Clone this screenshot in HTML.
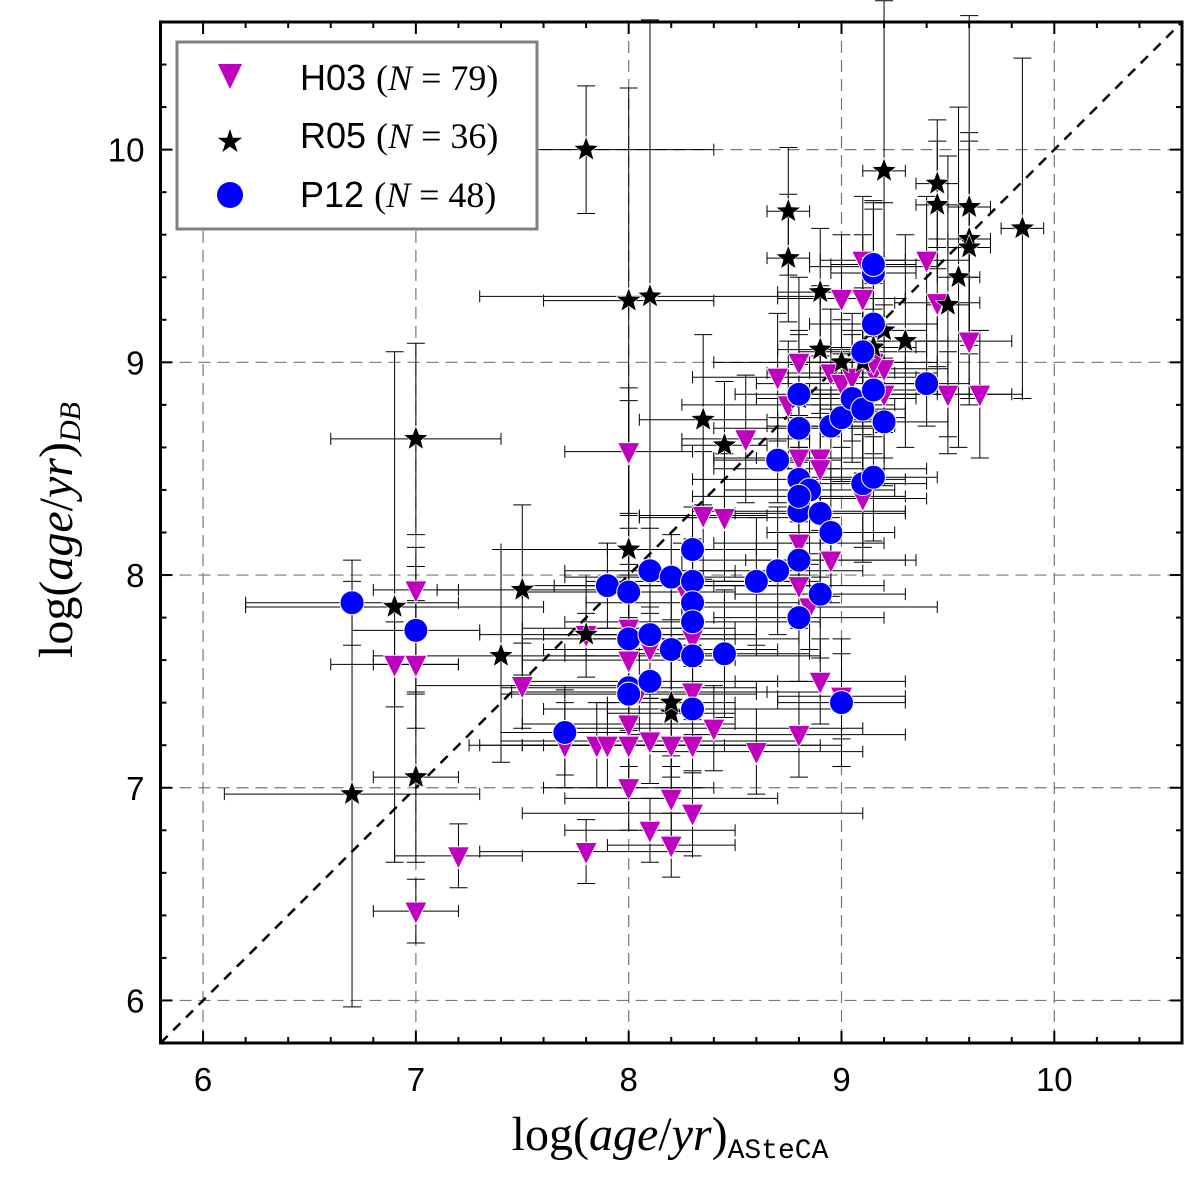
<!DOCTYPE html>
<html><head><meta charset="utf-8"><style>
html,body{margin:0;padding:0;background:#fff}
svg{display:block}
</style></head><body>
<svg id="chart" width="1200" height="1186" xmlns="http://www.w3.org/2000/svg">
<g id="grid"></g>
<g id="errs"></g>
<line id="diag" stroke="#000" stroke-width="2.5" stroke-dasharray="10,8"/>
<g id="marks"></g>
<g id="axes"></g>
<g>
<rect x="177" y="42" width="360" height="187" fill="#fff" stroke="#808080" stroke-width="3"/>
<polygon points="218,64 242,64 230,89" fill="#bf00bf"/>
<text x="300" y="90" font-family="Liberation Sans, sans-serif" font-size="36">H03 <tspan font-family="Liberation Serif, serif">(<tspan font-style="italic">N</tspan> = 79)</tspan></text>
<text x="230" y="152" text-anchor="middle" font-size="32" font-family="DejaVu Sans, sans-serif">★</text>
<text x="300" y="148" font-family="Liberation Sans, sans-serif" font-size="36">R05 <tspan font-family="Liberation Serif, serif">(<tspan font-style="italic">N</tspan> = 36)</tspan></text>
<circle cx="230" cy="195" r="13" fill="#0000ff"/>
<text x="300" y="207" font-family="Liberation Sans, sans-serif" font-size="36">P12 <tspan font-family="Liberation Serif, serif">(<tspan font-style="italic">N</tspan> = 48)</tspan></text>
</g>
<text x="670" y="1150" text-anchor="middle" font-family="Liberation Serif, serif" font-size="48">log(<tspan font-style="italic">age</tspan>/<tspan font-style="italic">yr</tspan>)<tspan font-family="Liberation Mono, monospace" font-size="28" dy="8">ASteCA</tspan></text>
<text transform="translate(72,530) rotate(-90)" text-anchor="middle" font-family="Liberation Serif, serif" font-size="48">log(<tspan font-style="italic">age</tspan>/<tspan font-style="italic">yr</tspan>)<tspan font-style="italic" font-size="30" dy="8">DB</tspan></text>
</svg>
<script>
const xTicks=[6,7,8,9,10];
const yTicks=[6,7,8,9,10];
const h03X=[7.0,6.9,7.0,7.0,7.2,7.5,7.7,7.8,7.8,7.85,7.9,8.0,8.0,8.0,8.0,8.0,8.0,8.1,8.1,8.1,8.2,8.2,8.2,8.3,8.3,8.3,8.3,8.35,8.45,8.4,8.6,8.55,8.7,8.8,8.75,8.8,8.8,8.8,8.8,8.9,8.9,8.9,8.95,8.95,9.0,9.0,9.0,9.05,9.1,9.1,9.1,9.15,9.15,9.2,9.4,9.45,9.5,9.6,9.65,9.2,9.15,8.85,8.25,8.3,8.05];
const h03Y=[7.93,7.58,7.58,6.42,6.68,7.48,7.2,6.7,7.72,7.2,7.2,8.58,7.75,7.6,7.3,7.2,7.0,7.65,7.22,6.8,7.2,6.95,6.73,7.7,7.45,7.2,6.88,8.28,8.27,7.28,7.17,8.64,8.93,9.0,8.8,8.55,8.15,7.95,7.25,8.55,8.5,7.5,8.07,8.95,8.9,9.3,7.43,8.93,9.48,9.3,8.36,9.45,8.95,8.97,9.48,9.28,8.85,9.1,8.85,8.85,9.0,7.85,7.95,7.95,7.45];
const h03Ex=[0.2,0.3,0.2,0.2,0.3,0.5,0.4,0.5,0.5,0.6,0.4,0.3,0.5,0.5,0.5,0.6,0.4,0.5,0.7,0.4,0.7,0.5,0.3,0.5,0.6,0.7,0.8,0.3,0.4,0.7,0.5,0.3,0.4,0.4,0.5,0.4,0.4,0.4,0.5,0.3,0.5,0.4,0.4,0.3,0.4,0.3,0.3,0.3,0.2,0.2,0.3,0.3,0.3,0.3,0.2,0.2,0.3,0.2,0.2,0.3,0.3,0.6,0.6,0.5,0.6];
const h03Ey=[0.2,0.2,0.3,0.15,0.15,0.2,0.2,0.15,0.2,0.2,0.2,0.3,0.3,0.2,0.2,0.2,0.2,0.2,0.2,0.15,0.2,0.2,0.15,0.3,0.2,0.2,0.2,0.3,0.3,0.2,0.2,0.3,0.3,0.4,0.3,0.3,0.2,0.2,0.2,0.3,0.3,0.2,0.2,0.3,0.3,0.3,0.2,0.3,0.3,0.3,0.3,0.3,0.3,0.3,0.3,0.3,0.2,0.3,0.3,0.3,0.3,0.2,0.2,0.2,0.2];
const r05X=[7.8,8.0,8.1,7.0,6.9,6.7,7.0,7.4,7.5,7.8,8.0,8.2,8.2,8.35,8.45,8.75,8.75,8.8,8.9,8.9,9.0,9.2,9.2,9.3,9.45,9.45,9.6,9.55,9.5,9.6,9.6,9.85,9.1,9.15];
const r05Y=[10.0,9.29,9.31,8.64,7.85,6.97,7.05,7.62,7.93,7.72,8.12,7.35,7.4,8.73,8.61,9.71,9.49,8.83,9.33,9.06,9.0,9.9,9.15,9.1,9.84,9.74,9.73,9.4,9.27,9.58,9.54,9.63,9.0,9.07];
const r05Ex=[0.6,0.4,0.8,0.4,0.7,0.6,0.2,0.6,0.4,0.2,0.6,0.3,0.3,0.3,0.2,0.1,0.1,0.2,0.2,0.2,0.2,0.1,0.2,0.2,0.1,0.1,0.1,0.1,0.1,0.1,0.1,0.1,0.2,0.2];
const r05Ey=[0.3,1.0,1.3,0.45,1.2,1.0,0.4,0.5,0.4,0.1,0.7,0.3,0.3,0.4,0.3,0.3,0.3,0.3,0.3,0.3,0.3,0.8,0.6,0.5,0.3,0.3,0.9,0.8,0.7,0.5,0.5,0.8,0.3,0.3];
const p12X=[6.7,7.0,7.7,7.9,8.0,8.0,8.0,8.0,8.1,8.1,8.1,8.2,8.2,8.3,8.3,8.3,8.3,8.3,8.3,8.45,8.6,8.7,8.7,8.8,8.8,8.8,8.8,8.8,8.8,8.85,8.9,8.9,8.95,8.95,9.0,9.05,9.1,9.1,9.1,9.15,9.15,9.15,9.15,9.15,9.2,9.4,9.0,8.8];
const p12Y=[7.87,7.74,7.26,7.95,7.92,7.7,7.47,7.44,8.02,7.72,7.5,7.99,7.65,8.12,7.97,7.87,7.78,7.62,7.37,7.63,7.97,8.02,8.54,8.85,8.69,8.45,8.3,8.07,7.8,8.4,8.29,7.91,8.2,8.7,8.74,8.83,8.78,9.05,8.43,8.87,8.46,9.18,9.42,9.46,8.72,8.9,7.4,8.37];
const p12Ex=[0.5,0.3,0.3,0.4,0.5,0.5,0.6,0.6,0.4,0.5,0.6,0.5,0.5,0.4,0.5,0.5,0.6,0.6,0.7,0.4,0.3,0.4,0.3,0.3,0.4,0.5,0.5,0.5,0.4,0.4,0.4,0.4,0.3,0.3,0.3,0.3,0.2,0.3,0.3,0.3,0.3,0.3,0.2,0.2,0.3,0.2,0.3,0.5];
const p12Ey=[0.2,0.3,0.2,0.2,0.3,0.3,0.2,0.2,0.2,0.3,0.2,0.2,0.3,0.2,0.3,0.3,0.3,0.3,0.3,0.3,0.3,0.3,0.2,0.3,0.3,0.3,0.3,0.3,0.3,0.3,0.3,0.3,0.3,0.3,0.3,0.3,0.3,0.3,0.3,0.3,0.3,0.3,0.3,0.3,0.3,0.2,0.3,0.3];

const L=160.5,R=1182,T=22,B=1043,X0=5.8,X1=10.6,Y0=5.8,Y1=10.6;
const sx=v=>L+(v-X0)/(X1-X0)*(R-L);
const sy=v=>B-(v-Y0)/(Y1-Y0)*(B-T);
const NS='http://www.w3.org/2000/svg';
function mk(tag,at,parent){const e=document.createElementNS(NS,tag);for(const k in at)e.setAttribute(k,at[k]);parent.appendChild(e);return e;}
const grid=document.getElementById('grid'),axes=document.getElementById('axes'),errs=document.getElementById('errs'),marks=document.getElementById('marks');
xTicks.forEach(t=>{const g=mk('line',{x1:sx(t),x2:sx(t),y1:T,y2:B,stroke:'#777','stroke-width':1.2,'stroke-dasharray':'12,7'},grid);


const tx=mk('text',{x:sx(t),y:B+48,'text-anchor':'middle','font-family':'Liberation Sans, sans-serif','font-size':33},axes);tx.textContent=t;

});
yTicks.forEach(t=>{const g=mk('line',{x1:L,x2:R,y1:sy(t),y2:sy(t),stroke:'#777','stroke-width':1.2,'stroke-dasharray':'12,7'},grid);


const tx=mk('text',{x:L-16,y:sy(t)+12,'text-anchor':'end','font-family':'Liberation Sans, sans-serif','font-size':33},axes);tx.textContent=t;

});
for(let i=0;i<=24;i++){const v=5.8+i*0.2;const maj=Math.abs(v-Math.round(v))<1e-6;const len=maj?12:6;
mk('line',{x1:sx(v),x2:sx(v),y1:B,y2:B-len,stroke:'#000','stroke-width':2},axes);
mk('line',{x1:sx(v),x2:sx(v),y1:T,y2:T+len,stroke:'#000','stroke-width':2},axes);
mk('line',{x1:L,x2:L+len,y1:sy(v),y2:sy(v),stroke:'#000','stroke-width':2},axes);
mk('line',{x1:R,x2:R-len,y1:sy(v),y2:sy(v),stroke:'#000','stroke-width':2},axes);}
const fr=mk('rect',{x:L,y:T,width:R-L,height:B-T,fill:'none',stroke:'#000','stroke-width':3},axes);


const d=document.getElementById('diag');d.setAttribute('x1',sx(5.8));d.setAttribute('y1',sy(5.8));d.setAttribute('x2',sx(10.6));d.setAttribute('y2',sy(10.6));
function ebar(X,Y,Ex,Ey){for(let i=0;i<X.length;i++){const cx=sx(X[i]),cy=sy(Y[i]);
const a=sx(X[i]-Ex[i]),b=sx(X[i]+Ex[i]),c=sy(Y[i]-Ey[i]),e=sy(Y[i]+Ey[i]);
const p=mk('path',{d:`M${a},${cy}H${b}M${cx},${c}V${e}M${a},${cy-6}V${cy+6}M${b},${cy-6}V${cy+6}M${cx-9},${c}H${cx+9}M${cx-9},${e}H${cx+9}`,stroke:'#000','stroke-width':1,fill:'none'},errs);

}}
ebar(h03X,h03Y,h03Ex,h03Ey);ebar(r05X,r05Y,r05Ex,r05Ey);ebar(p12X,p12Y,p12Ex,p12Ey);
h03X.forEach((x,i)=>{const cx=sx(x),cy=sy(h03Y[i]);
const m=mk('polygon',{points:`${cx-11},${cy-9} ${cx+11},${cy-9} ${cx},${cy+13}`,fill:'#bf00bf',stroke:'#fff','stroke-width':0.8},marks);

});
r05X.forEach((x,i)=>{const cx=sx(x),cy=sy(r05Y[i]);const pts=[];
for(let k=0;k<10;k++){const r=k%2?5.5:13,a=-Math.PI/2+k*Math.PI/5;pts.push((cx+r*Math.cos(a)).toFixed(1)+','+(cy+r*Math.sin(a)).toFixed(1));}
const m=mk('polygon',{points:pts.join(' '),fill:'#000',stroke:'#fff','stroke-width':0.6},marks);

});
p12X.forEach((x,i)=>{const m=mk('circle',{cx:sx(x),cy:sy(p12Y[i]),r:12,fill:'#0000ff',stroke:'#fff','stroke-width':1},marks);

});
</script>
</body></html>
